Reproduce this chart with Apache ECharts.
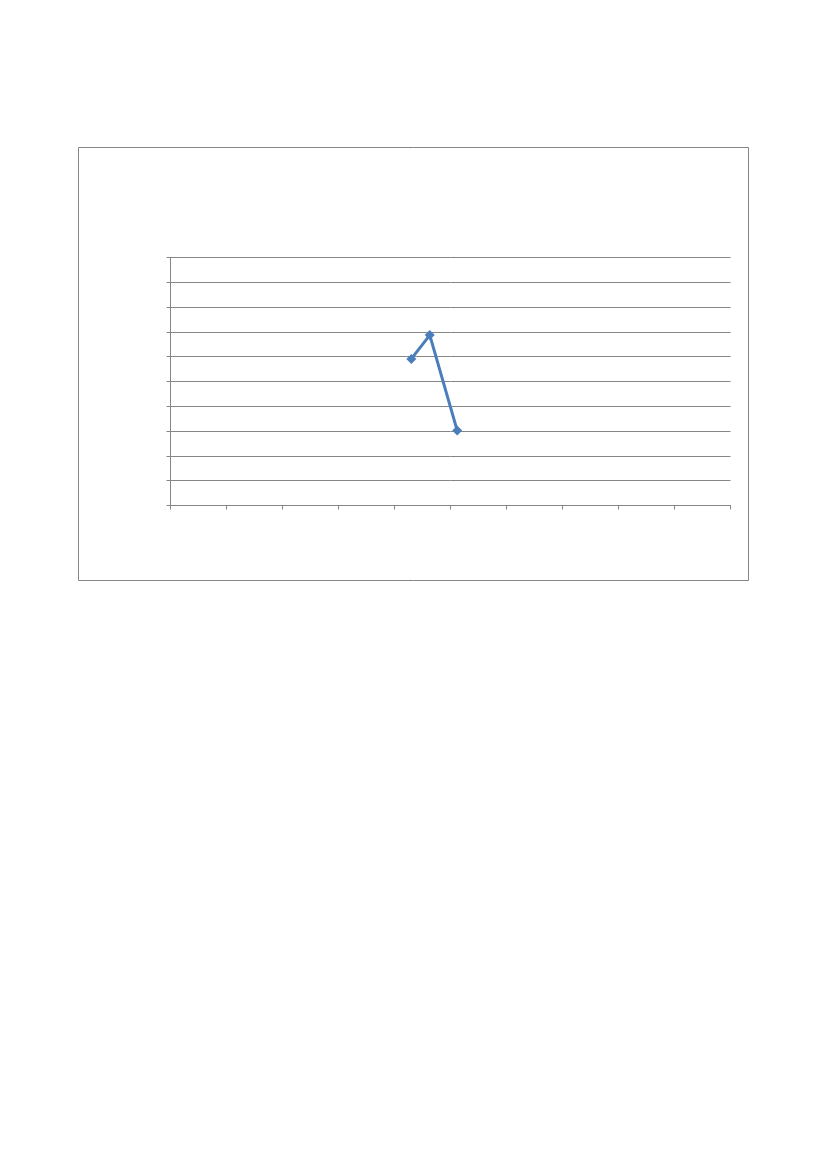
<!DOCTYPE html>
<html>
<head>
<meta charset="utf-8">
<script src="https://cdn.jsdelivr.net/npm/echarts@6/dist/echarts.min.js"></script>
<style>
  html, body { margin: 0; padding: 0; background: #ffffff; }
  #chart { width: 827px; height: 1169px; }
</style>
</head>
<body>
<div id="chart"></div>
<script>
// scatter with straight lines, no labels shown in the source
var xValues = [4.3, 4.63, 5.12];
var yValues = [5.91, 6.87, 3.02];

var points = xValues.map(function (x, i) { return [x, yValues[i]]; });

var chart = echarts.init(document.getElementById('chart'), null, { renderer: 'canvas' });

var axisGrey = '#868686';

var option = {
  backgroundColor: '#ffffff',
  animation: false,
  graphic: [{
    type: 'rect',
    shape: { x: 78.5, y: 147.5, width: 670, height: 433 },
    style: { fill: 'none', stroke: axisGrey, lineWidth: 1 },
    z: -1
  }],
  grid: {
    left: 170.5,
    top: 257.5,
    width: 560,
    height: 248
  },
  xAxis: {
    type: 'value',
    min: 0,
    max: 10,
    interval: 1,
    axisLine: { show: true, onZero: false, lineStyle: { color: axisGrey, width: 1 } },
    axisTick: { show: true, inside: false, length: 4, lineStyle: { color: axisGrey } },
    axisLabel: { show: false },
    splitLine: { show: false }
  },
  yAxis: {
    type: 'value',
    min: 0,
    max: 10,
    interval: 1,
    axisLine: { show: true, onZero: false, lineStyle: { color: axisGrey, width: 1 } },
    axisTick: { show: true, inside: false, length: 4, lineStyle: { color: axisGrey } },
    axisLabel: { show: false },
    splitLine: { show: true, lineStyle: { color: axisGrey, width: 1 } }
  },
  series: [{
    type: 'line',
    data: points,
    symbol: 'diamond',
    symbolSize: 10,
    lineStyle: { color: '#4a7ebb', width: 3 },
    itemStyle: { color: '#4a7ebb' }
  }]
};

chart.setOption(option);
</script>
</body>
</html>
